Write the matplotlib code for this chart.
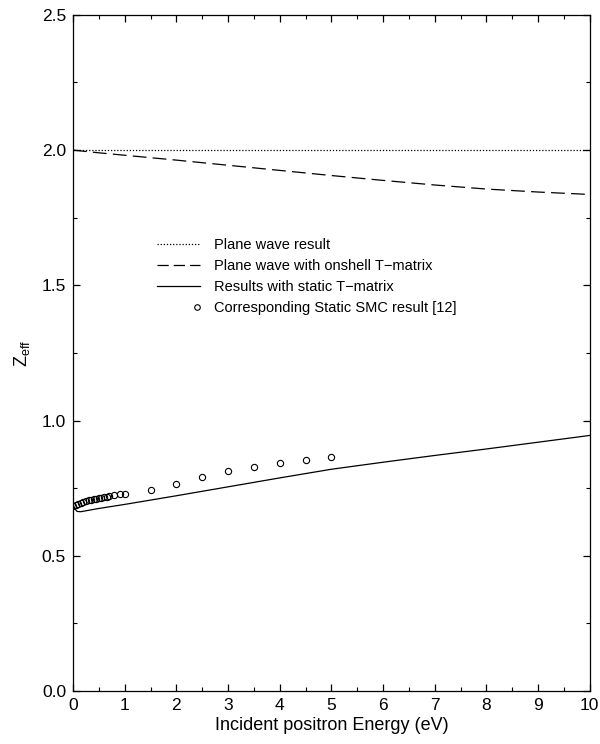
import numpy as np
import matplotlib.pyplot as plt
from matplotlib.lines import Line2D
from matplotlib.legend_handler import HandlerLine2D

plt.rcParams.update({
    "font.family": "Liberation Sans", "font.size": 11,
    "mathtext.fontset": "custom", "mathtext.rm": "Liberation Sans",
    "mathtext.it": "Liberation Sans",
})

# plane wave result (constant)
e_plane = [0.0, 10.0]
z_plane = [2.0, 2.0]

# plane wave with onshell T-matrix
e_onshell = [0.0, 0.5, 1, 2, 3, 4, 5, 6, 7, 8, 9, 10]
z_onshell = [2.0, 1.99, 1.981, 1.963, 1.944, 1.925, 1.906, 1.888, 1.871, 1.856, 1.845, 1.836]

# static T-matrix
e_static = [0.0, 0.03, 0.08, 0.15, 0.5, 1, 1.5, 2, 3, 4, 5, 6, 7, 8, 9, 10]
z_static = [0.69, 0.675, 0.664, 0.663, 0.675, 0.69, 0.706, 0.722, 0.755, 0.788,
            0.82, 0.846, 0.871, 0.895, 0.92, 0.945]

# static SMC result [12]
e_smc = [0.0, 0.05, 0.1, 0.15, 0.2, 0.25, 0.3, 0.35, 0.4, 0.45, 0.5, 0.55, 0.6,
         0.65, 0.7, 0.8, 0.9, 1.0, 1.5, 2.0, 2.5, 3.0, 3.5, 4.0, 4.5, 5.0]
z_smc = [0.685, 0.689, 0.693, 0.696, 0.699, 0.702, 0.705, 0.707, 0.709, 0.711,
         0.713, 0.715, 0.717, 0.719, 0.721, 0.724, 0.727, 0.73, 0.743, 0.765,
         0.79, 0.812, 0.827, 0.842, 0.853, 0.864]


class RightMarkerHandler(HandlerLine2D):
    # single marker at the right end of the handle box
    def get_xdata(self, legend, xdescent, ydescent, width, height, fontsize):
        x = [-xdescent + width * 0.93]
        return x, x


fig = plt.figure(figsize=(6.0, 7.44), dpi=100)
ax = fig.add_axes([0.1217, 0.0712, 0.8613, 0.9088])

dash = (0, (11, 5))
ax.plot(e_plane, z_plane, color="black", lw=0.9, linestyle=(0, (1, 1.5)))
ax.plot(e_onshell, z_onshell, color="black", lw=0.9, linestyle=dash)
ax.plot(e_static, z_static, color="black", lw=0.9)
ax.plot(e_smc, z_smc, linestyle="none", marker="o", ms=4.5, mfc="none",
        mec="black", mew=0.8)

ax.set_xlim(0, 10)
ax.set_ylim(0, 2.5)
ax.set_xticks(np.arange(0, 11, 1))
ax.set_yticks(np.arange(0, 2.51, 0.5))
ax.set_xticks(np.arange(0, 10.01, 0.5), minor=True)
ax.set_yticks(np.arange(0, 2.51, 0.25), minor=True)
ax.tick_params(which="both", direction="in", top=True, right=True)
ax.tick_params(which="major", length=5, width=0.9, labelsize=12.5, pad=5)
ax.tick_params(which="minor", length=3, width=0.8)
ax.yaxis.set_major_formatter(plt.FormatStrFormatter("%.1f"))
for s in ax.spines.values():
    s.set_linewidth(0.9)

ax.set_xlabel("Incident positron Energy (eV)", fontsize=13, labelpad=3)
ax.set_ylabel(r"Z$_{\rm eff}$", fontsize=13, labelpad=7)

handles = [
    Line2D([], [], color="black", lw=0.9, linestyle=(0, (1, 1.5))),
    Line2D([], [], color="black", lw=0.9, linestyle=(0, (9, 4))),
    Line2D([], [], color="black", lw=0.9),
    Line2D([], [], linestyle="none", marker="o", ms=4, mfc="none", mec="black", mew=0.8),
]
labels = ["Plane wave result", "Plane wave with onshell T\u2212matrix",
          "Results with static T\u2212matrix", "Corresponding Static SMC result [12]"]
ax.legend(handles, labels, loc="upper left", bbox_to_anchor=(0.152, 0.678),
          frameon=False, handlelength=2.95, handletextpad=0.95, labelspacing=0.48,
          fontsize=10.5, numpoints=1, borderaxespad=0,
          handler_map={handles[3]: RightMarkerHandler(numpoints=2)})

fig.savefig("out.png", dpi=100)
